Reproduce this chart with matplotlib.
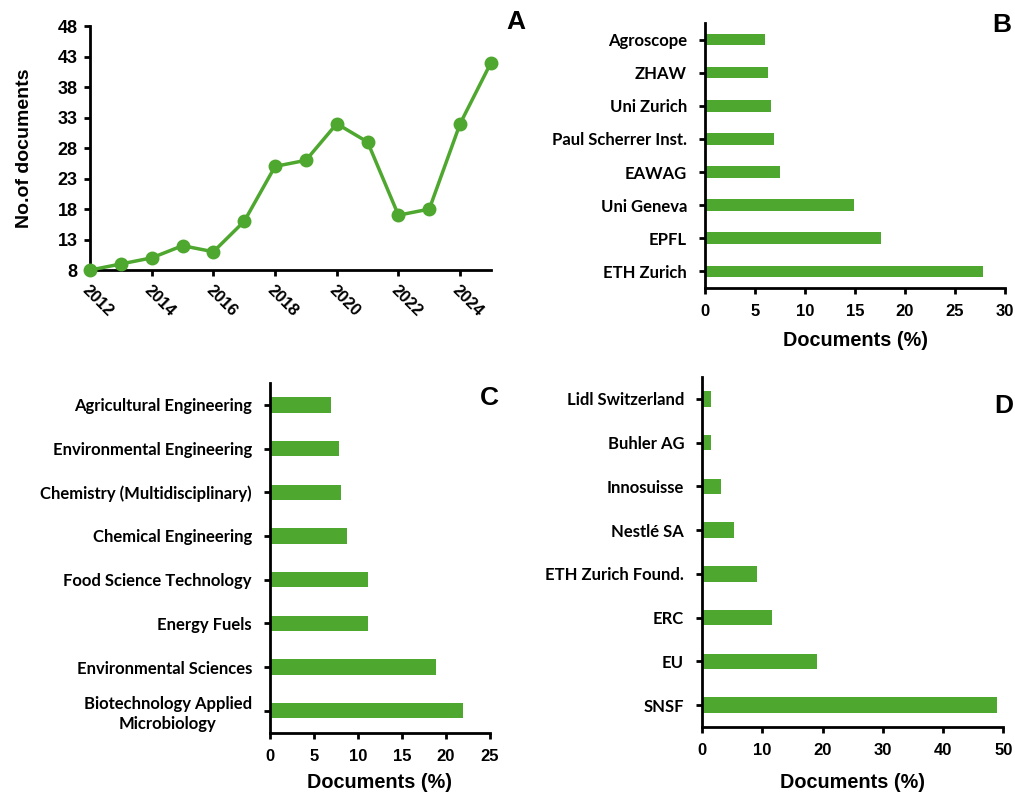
import matplotlib
matplotlib.use("Agg")
import matplotlib.pyplot as plt
import numpy as np

# data
years = [2012, 2013, 2014, 2015, 2016, 2017, 2018, 2019, 2020, 2021, 2022, 2023, 2024, 2025]
docs = [8, 9, 10, 12, 11, 16, 25, 26, 32, 29, 17, 18, 32, 42]

inst_names = ["Agroscope", "ZHAW", "Uni Zurich", "Paul Scherrer Inst.", "EAWAG",
              "Uni Geneva", "EPFL", "ETH Zurich"]
inst_vals = [6.0, 6.3, 6.6, 6.9, 7.5, 14.9, 17.6, 27.8]

area_names = ["Agricultural Engineering", "Environmental Engineering",
              "Chemistry (Multidisciplinary)", "Chemical Engineering",
              "Food Science Technology", "Energy Fuels", "Environmental Sciences",
              "Biotechnology Applied\nMicrobiology"]
area_vals = [6.9, 7.8, 8.1, 8.7, 11.1, 11.1, 18.9, 21.9]

fund_names = ["Lidl Switzerland", "Buhler AG", "Innosuisse", "Nestlé SA",
              "ETH Zurich Found.", "ERC", "EU", "SNSF"]
fund_vals = [1.5, 1.5, 3.1, 5.3, 9.1, 11.5, 19.0, 49.0]

green = "#4EA72E"
numfont = "Liberation Sans"
catfont = "Lato"

fig = plt.figure(figsize=(10.15, 7.92), dpi=100)


def style_axes(ax):
    for s in ["top", "right"]:
        ax.spines[s].set_visible(False)
    for s in ["left", "bottom"]:
        ax.spines[s].set_linewidth(2)
        ax.spines[s].set_color("black")
    ax.tick_params(width=2, length=4, direction="out", color="black")


def bar_panel(rect, names, vals, xmax, step, letter, letter_xy, lpad):
    ax = fig.add_axes(rect)
    style_axes(ax)
    y = np.arange(len(names))
    ax.barh(y, vals, height=0.35, color=green)
    ax.set_ylim(len(names) - 0.5, -0.5)
    ax.set_xlim(0, xmax)
    ax.set_xticks(np.arange(0, xmax + 0.1, step))
    ax.set_yticks(y)
    ax.set_yticklabels(names, fontsize=12, fontweight="bold", family=catfont)
    for t in ax.get_yticklabels():
        t.set_multialignment("center")
        t.set_linespacing(1.3)
    for t in ax.get_xticklabels():
        t.set_fontsize(12)
        t.set_fontweight("bold")
        t.set_family(numfont)
    ax.tick_params(axis="x", pad=7.5)
    ax.tick_params(axis="y", pad=9)
    ax.set_xlabel("Documents (%)", fontsize=14.3, fontweight="bold", family=numfont, labelpad=lpad)
    fig.text(letter_xy[0], letter_xy[1], letter, fontsize=19, fontweight="bold",
             family=numfont, ha="center", va="center")
    return ax


# panel A
axA = fig.add_axes([0.0887, 0.659, 0.395, 0.308])
style_axes(axA)
axA.plot(years, docs, color=green, lw=2.5, marker="o", ms=9, clip_on=False, zorder=3)
axA.set_xlim(2012, 2025)
axA.set_ylim(8, 48)
axA.set_yticks(np.arange(8, 49, 5))
axA.set_xticks(np.arange(2012, 2025, 2))
for t in axA.get_yticklabels():
    t.set_fontsize(13)
    t.set_fontweight("bold")
    t.set_family(numfont)
axA.set_xticklabels([str(v) for v in range(2012, 2025, 2)], rotation=-45, ha="left",
                    va="top", rotation_mode="anchor", fontsize=12, fontweight="bold",
                    family=numfont)
axA.tick_params(axis="x", pad=5)
axA.tick_params(axis="y", pad=5)
axA.set_ylabel("No.of documents", fontsize=14, fontweight="bold", family=numfont, labelpad=18)
fig.text(0.508, 0.972, "A", fontsize=19, fontweight="bold", family=numfont,
         ha="center", va="center")

bar_panel([0.6946, 0.6364, 0.2956, 0.3346], inst_names, inst_vals, 30, 5, "B", (0.987, 0.969), 8.5)
bar_panel([0.266, 0.0749, 0.2167, 0.4415], area_names, area_vals, 25, 5, "C", (0.482, 0.497), 7)
bar_panel([0.6919, 0.0821, 0.2966, 0.4419], fund_names, fund_vals, 50, 10, "D", (0.989, 0.488), 11)

fig.savefig("out.png", dpi=100)
